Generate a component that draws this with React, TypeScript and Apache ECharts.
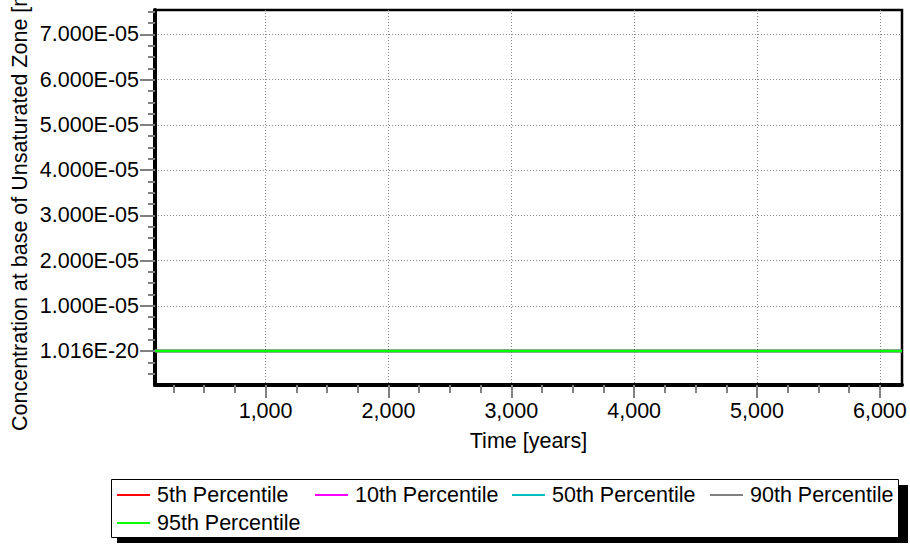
import React, { useEffect, useRef } from "react";
import * as echarts from "echarts";

// ---- data ----
const timeYears = [100, 500, 1000, 1500, 2000, 2500, 3000, 3500, 4000, 4500, 5000, 5500, 6000, 6180];
const p5 = [1.016e-20, 1.016e-20, 1.016e-20, 1.016e-20, 1.016e-20, 1.016e-20, 1.016e-20, 1.016e-20, 1.016e-20, 1.016e-20, 1.016e-20, 1.016e-20, 1.016e-20, 1.016e-20];
const p10 = [1.016e-20, 1.016e-20, 1.016e-20, 1.016e-20, 1.016e-20, 1.016e-20, 1.016e-20, 1.016e-20, 1.016e-20, 1.016e-20, 1.016e-20, 1.016e-20, 1.016e-20, 1.016e-20];
const p50 = [1.016e-20, 1.016e-20, 1.016e-20, 1.016e-20, 1.016e-20, 1.016e-20, 1.016e-20, 1.016e-20, 1.016e-20, 1.016e-20, 1.016e-20, 1.016e-20, 1.016e-20, 1.016e-20];
const p90 = [1.016e-20, 1.016e-20, 1.016e-20, 1.016e-20, 1.016e-20, 1.016e-20, 1.016e-20, 1.016e-20, 1.016e-20, 1.016e-20, 1.016e-20, 1.016e-20, 1.016e-20, 1.016e-20];
const p95 = [1.016e-20, 1.016e-20, 1.016e-20, 1.016e-20, 1.016e-20, 1.016e-20, 1.016e-20, 1.016e-20, 1.016e-20, 1.016e-20, 1.016e-20, 1.016e-20, 1.016e-20, 1.016e-20];
const seriesNames = ["5th Percentile", "10th Percentile", "50th Percentile", "90th Percentile", "95th Percentile"];
const seriesValues = [p5, p10, p50, p90, p95];
const seriesColors = ["#ff0000", "#ff00ff", "#00c0c0", "#808080", "#00ff00"];

const xTickValues = [1000, 2000, 3000, 4000, 5000, 6000];
const yTickValues = [1.016e-20, 1e-5, 2e-5, 3e-5, 4e-5, 5e-5, 6e-5, 7e-5];
const xMin = 100;
const xMax = 6180;
const yMin = -7.5e-6;
const yMax = 7.54e-5;
const xName = "Time [years]";
const yName = "Concentration at base of Unsaturated Zone [mg/L]";

const xMinorTicks: number[] = [];
for (let k = 1; k * 250 <= xMax; k++) if (k % 4 !== 0) xMinorTicks.push(k * 250);
const yMinorTicks: number[] = [];
for (let k = -2; k * 2.5e-6 <= yMax; k++) if (k % 4 !== 0) yMinorTicks.push(k * 2.5e-6);

const FONT = "'Liberation Sans', Arial, Helvetica, sans-serif";
const FS = 21.5;

function fmtSci(v: number): string {
  return v.toExponential(3).replace(/e([+-])(\d)$/, "e$10$2").toUpperCase();
}

export default function App() {
  const ref = useRef<HTMLDivElement>(null);
  useEffect(() => {
    if (!ref.current) return;
    const chart = echarts.init(ref.current, undefined, { renderer: "svg" });
    const legendPos = [
      [117, 482],
      [315, 482],
      [512, 482],
      [710, 482],
      [117, 510],
    ];
    const tickStyle = { color: "#808080", width: 2 };
    chart.setOption({
      animation: false,
      backgroundColor: "#ffffff",
      grid: {
        left: 155,
        right: 8,
        top: 10,
        bottom: 159,
        show: true,
        borderColor: "#000",
        borderWidth: 2.5,
        backgroundColor: "#fff",
      },
      xAxis: [
        {
          type: "value",
          min: xMin,
          max: xMax,
          name: xName,
          nameLocation: "middle",
          nameGap: 45,
          nameTextStyle: { fontSize: FS, fontFamily: FONT, color: "#000" },
          axisLine: { show: true, onZero: false, lineStyle: { color: "#000", width: 4 } },
          axisTick: { show: true, customValues: xTickValues, length: 13, lineStyle: tickStyle },
          axisLabel: {
            customValues: xTickValues,
            margin: 15,
            fontSize: FS,
            fontFamily: FONT,
            color: "#000",
            formatter: (v: number) => v.toLocaleString("en-US"),
          },
          splitLine: { show: true, lineStyle: { color: "#888", type: [1, 2], width: 1 } },
        },
        {
          type: "value",
          min: xMin,
          max: xMax,
          position: "bottom",
          axisLine: { show: false, onZero: false },
          axisTick: { show: true, customValues: xMinorTicks, length: 8, lineStyle: tickStyle },
          axisLabel: { show: false },
          splitLine: { show: false },
        },
      ],
      yAxis: [
        {
          type: "value",
          min: yMin,
          max: yMax,
          axisLine: { show: true, onZero: false, lineStyle: { color: "#000", width: 4 } },
          axisTick: { show: true, customValues: yTickValues, length: 15, lineStyle: tickStyle },
          axisLabel: {
            customValues: yTickValues,
            margin: 16,
            fontSize: FS,
            fontFamily: FONT,
            color: "#000",
            formatter: (v: number) => fmtSci(v),
          },
          splitLine: { show: true, lineStyle: { color: "#888", type: [1, 2], width: 1 } },
        },
        {
          type: "value",
          min: yMin,
          max: yMax,
          position: "left",
          axisLine: { show: false, onZero: false },
          axisTick: { show: true, customValues: yMinorTicks, length: 7, lineStyle: tickStyle },
          axisLabel: { show: false },
          splitLine: { show: false },
        },
      ],
      legend: seriesNames.map((n, i) => ({
        data: [n],
        left: legendPos[i][0],
        top: legendPos[i][1],
        orient: "horizontal",
        icon: "rect",
        itemWidth: 33,
        itemHeight: 2,
        padding: 0,
        selectedMode: false,
        z: 10,
        textStyle: { fontSize: FS, fontFamily: FONT, color: "#000", lineHeight: 26, padding: [0, 0, 0, 2] },
      })),
      graphic: [
        { type: "rect", z: 1, shape: { x: 117, y: 485, width: 791, height: 58 }, style: { fill: "#000" } },
        { type: "rect", z: 2, shape: { x: 111.5, y: 479.5, width: 787, height: 58 }, style: { fill: "#fff", stroke: "#000", lineWidth: 1 } },
        {
          type: "text",
          z: 3,
          x: 20,
          y: 431,
          rotation: Math.PI / 2,
          style: { text: yName, font: `${FS}px ${FONT}`, fill: "#000", textAlign: "left", textVerticalAlign: "middle" },
        },
      ],
      series: seriesNames.map((n, i) => ({
        name: n,
        type: "line",
        xAxisIndex: 0,
        yAxisIndex: 0,
        color: seriesColors[i],
        showSymbol: false,
        symbol: "none",
        lineStyle: { color: seriesColors[i], width: 2.5 },
        data: timeYears.map((t, j) => [t, seriesValues[i][j]]),
      })),
    });
    return () => chart.dispose();
  }, []);
  return <div ref={ref} style={{ position: "fixed", left: 0, top: 0, width: 910, height: 544 }} />;
}
